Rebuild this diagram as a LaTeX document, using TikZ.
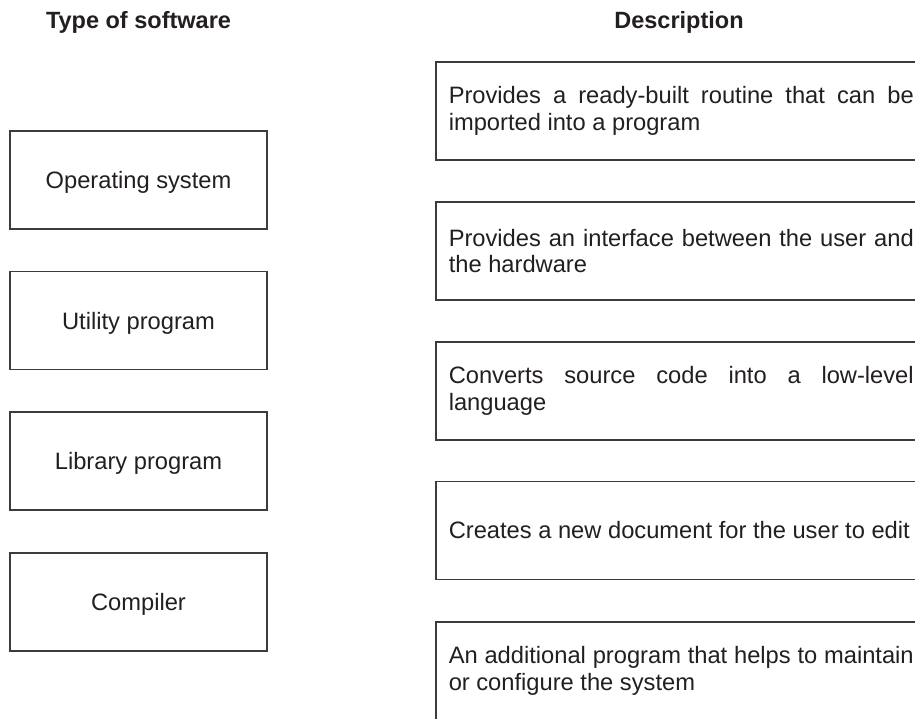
\documentclass[tikz,border=0pt]{standalone}
\usepackage{fontspec}
\setmainfont{Liberation Sans}
\definecolor{linec}{HTML}{3C3C3C}
\definecolor{txtc}{HTML}{231F20}
\hyphenpenalty=10000
\exhyphenpenalty=10000
\begin{document}
\begin{tikzpicture}[x=1pt,y=-1pt,
  every node/.style={text=txtc, font=\fontsize{23.7}{26.7}\selectfont},
  heading/.style={font=\fontsize{23.5}{26.7}\selectfont\bfseries, anchor=base, inner sep=0pt},
  typebox/.style={draw=linec, line width=1.5pt, minimum width=257pt, minimum height=98pt, inner sep=0pt, text depth=0pt},
  descbox/.style={draw=linec, line width=1.5pt, minimum height=98pt, text width=465pt, inner xsep=13pt, inner ysep=0pt, align=justify, anchor=west}]
\useasboundingbox (0,0) rectangle (915,718);
\clip (0,0) rectangle (915,718);
\fill[white] (0,0) rectangle (915,718);

\node[heading] (h1) at (138.5,28) {Type of software};
\node[heading] (h2) at (679,28) {Description};

\node[typebox] (os) at (138.5,180) {Operating system};
\node[typebox] (ut) at (138.5,320.5) {Utility program};
\node[typebox] (lib) at (138.5,461) {Library program};
\node[typebox] (comp) at (138.5,602) {Compiler};

\node[descbox] (d1) at (435,111) {Provides a ready-built routine that can be\linebreak imported into a program};
\node[descbox] (d2) at (435,251) {Provides an interface between the user and\linebreak the hardware};
\node[descbox] (d3) at (435,391) {Converts source code into a low-level\linebreak language};
\node[descbox] (d4) at (435,530.5) {Creates a new document for the user to edit};
\node[descbox] (d5) at (435,671) {An additional program that helps to maintain\linebreak or configure the system};
\end{tikzpicture}
\end{document}
